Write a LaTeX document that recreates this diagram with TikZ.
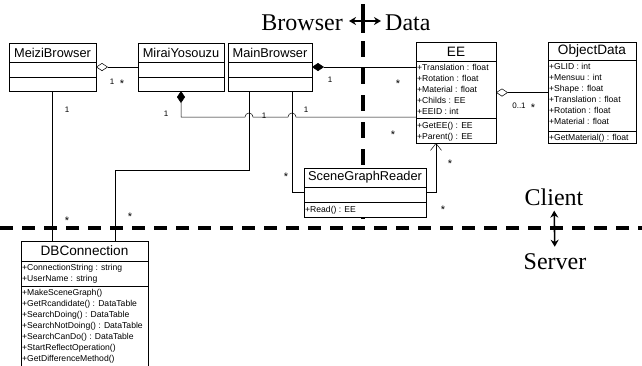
\documentclass[tikz,border=0pt]{standalone}
\usepackage{fontspec}
\setmainfont{Liberation Serif}
\setsansfont{Liberation Sans}
\usetikzlibrary{arrows.meta,positioning,calc}

\tikzset{
  cls/.style={draw,fill=white,inner sep=0pt,outer sep=0pt,anchor=north west,line width=0.6pt},
  clsname/.style={font=\sffamily\fontsize{12.8}{14}\selectfont,inner sep=0pt},
  bigname/.style={font=\sffamily\fontsize{13.6}{15}\selectfont,inner sep=0pt},
  members/.style={font=\sffamily\fontsize{8.6}{11.1}\selectfont,align=left,anchor=north west,inner sep=0pt},
  mult/.style={font=\sffamily\fontsize{8}{9}\selectfont,inner sep=0pt},
  many/.style={font=\sffamily\fontsize{11}{12}\selectfont,inner sep=0pt,yshift=-2pt},
  assoc/.style={line width=0.5pt},
  agg/.style={assoc,{Diamond[open,length=12pt,width=8pt]}-},
  comp/.style={assoc,{Diamond[length=12pt,width=8pt]}-},
  border/.style={line width=3.6pt,dash pattern=on 13pt off 9pt},
  bigtext/.style={font=\fontsize{24}{26}\selectfont,inner sep=0pt},
  twoway/.style={line width=1.6pt,{Stealth[length=7pt,width=8pt]}-{Stealth[length=7pt,width=8pt]}},
}
% compartment separator, #2 pt below the top edge of #1
\newcommand\compline[2]{\draw[line width=0.6pt] ([yshift=-#2pt]#1.north west) -- ([yshift=-#2pt]#1.north east);}

\begin{document}
\begin{tikzpicture}[x=1pt,y=-1pt]
\useasboundingbox (0,0) rectangle (642,365);
\clip (0,0) rectangle (642,365);

% class frames
\node[cls,minimum width=87pt,minimum height=48pt] (meizi) at (9,43) {};
\node[cls,minimum width=86pt,minimum height=48pt] (mirai) at (138,43) {};
\node[cls,minimum width=84pt,minimum height=48pt] (main) at (228,43) {};
\node[cls,minimum width=80pt,minimum height=101pt] (ee) at (416,42) {};
\node[cls,minimum width=88pt,minimum height=101pt] (od) at (548,42) {};
\node[cls,minimum width=127pt,minimum height=140pt] (db) at (21,241) {};

% client/server and browser/data borders
\draw[border] (0,228) -- (642,228);
\draw[line width=3.2pt] (363,4) -- (363,33);
\draw[border,dash pattern=on 16pt off 11pt] (363,41) -- (363,228);

% the reader sits on top of the vertical border
\node[cls,minimum width=122pt,minimum height=49pt] (sgr) at (304,168) {};

% associations
\draw[agg] (meizi.east) -- (mirai.west);
\draw[assoc] (meizi.south) -- (meizi.south |- db.north);
\draw[comp] (mirai.south) -- (181,117) -- (245,117)
  arc[start angle=180,end angle=360,radius=4] -- (288,117)
  arc[start angle=180,end angle=360,radius=4] -- (ee.west |- 0,117);
\draw[comp] (main.east) -- (main.east -| ee.west);
\draw[assoc] ([xshift=-21pt]main.south) |- (115,170) -- (db.north -| 115,0);
\draw[assoc] ([xshift=22pt]main.south) |- (sgr.west);
\draw[assoc,-{Straight Barb[length=7pt,width=11pt]}] (sgr.east) -| (ee.south -| 436,0);
\draw[agg] (ee.east) -- (od.west);

% multiplicities
\foreach \x/\y/\t [count=\i] in {112/82/1, 67/110/1, 166/114/1, 264/116/1,
    306/110/1, 330/80/1, 519/106/0..1}
  \node[mult] (one\i) at (\x,\y) {\t};
\foreach \x/\y [count=\i] in {122/82, 67/219, 393/133, 398/82, 286/175,
    443/208, 450/162, 130/215, 533/106}
  \node[many] (many\i) at (\x,\y) {*};

% compartments
\foreach \n in {meizi,mirai,main} {
  \compline{\n}{19}
  \compline{\n}{34}
}
\compline{ee}{19}
\compline{ee}{76}
\compline{od}{18}
\compline{od}{89}
\compline{sgr}{19}
\compline{sgr}{34}
\compline{db}{20}
\compline{db}{45}

% class names
\node[clsname] (meizi-name) at (52.5,52.5) {MeiziBrowser};
\node[clsname] (mirai-name) at (181,52.5) {MiraiYosouzu};
\node[clsname] (main-name) at (270,53) {MainBrowser};
\node[bigname] (ee-name) at (456,51.5) {EE};
\node[bigname] (od-name) at (592,51) {ObjectData};
\node[clsname] (sgr-name) at (365,177.5) {SceneGraphReader};
\node[bigname] (db-name) at (84.5,251) {DBConnection};

% attributes and operations
\node[members] (ee-attr) at (417,63.8) {+Translation : float\\+Rotation : float\\+Material : float\\+Childs : EE\\+EEID : int};
\node[members] (ee-op) at (417,121.8) {+GetEE() : EE\\+Parent() : EE};
\node[members] (od-attr) at (549,62.8) {+GLID : int\\+Mensuu : int\\+Shape : float\\+Translation : float\\+Rotation : float\\+Material : float};
\node[members] (od-op) at (549,133.8) {+GetMaterial() : float};
\node[members] (sgr-op) at (305,205.8) {+Read() : EE};
\node[members] (db-attr) at (22,263.8) {+ConnectionString : string\\+UserName : string};
\node[members] (db-op) at (22,288.8) {+MakeSceneGraph()\\+GetRcandidate() : DataTable\\+SearchDoing() : DataTable\\+SearchNotDoing() : DataTable\\+SearchCanDo() : DataTable\\+StartReflectOperation()\\+GetDifferenceMethod()};

% side labels
\node[bigtext,anchor=east] (browser) at (343,23) {Browser};
\node[bigtext,anchor=west] (data) at (385,23) {Data};
\draw[twoway] ([xshift=6pt,yshift=2pt]browser.east) -- ([xshift=-4pt,yshift=2pt]data.west);
\node[bigtext] (client) at (554,197) {Client};
\node[bigtext] (server) at (555,262) {Server};
\draw[twoway,shorten <=5pt,shorten >=7pt] (client) -- (server);
\end{tikzpicture}
\end{document}
